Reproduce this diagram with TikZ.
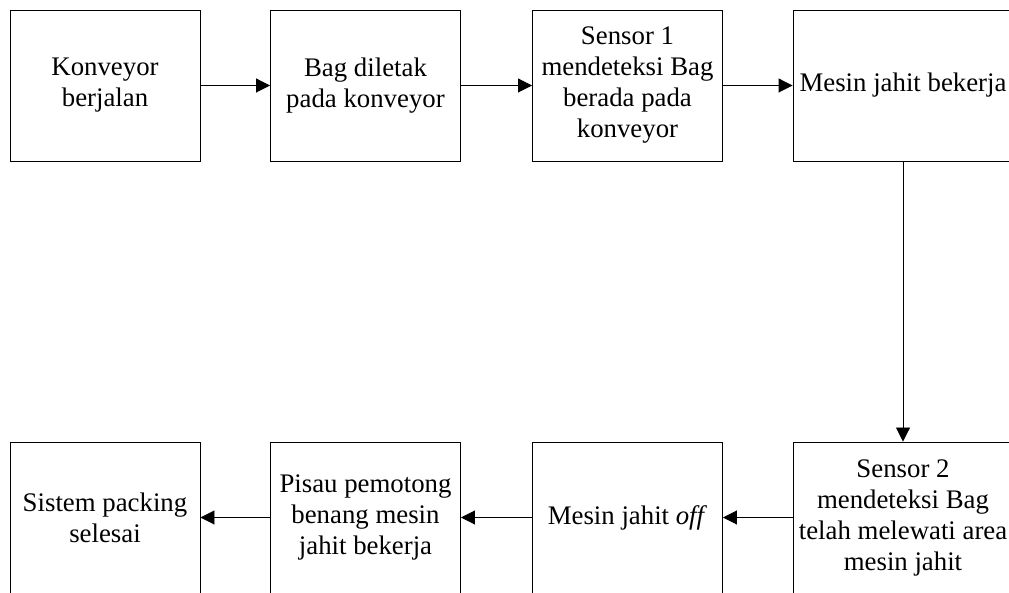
\documentclass[tikz,border=0pt]{standalone}
\usepackage{fontspec}
\setmainfont{Liberation Serif}
\usetikzlibrary{arrows.meta}

\tikzset{
	blok/.style={draw, line width=0.9pt, minimum width=190pt, minimum height=151pt,
		inner sep=0pt, align=center, font=\fontsize{26.8}{31}\selectfont},
	lebar/.style={minimum width=220pt},
	panah/.style={line width=0.9pt, -{Triangle[length=14pt,width=14pt]}}
}

\begin{document}
\begin{tikzpicture}[x=1pt,y=1pt]
	\useasboundingbox (0,0) rectangle (1009,592);
	\clip (0,0) rectangle (1009,592);
	% baris atas
	\node[blok] (konveyor) at (105,506.5) {Konveyor\\berjalan};
	\node[blok] (bag) at (365.5,506.5) {Bag diletak\\pada konveyor};
	\node[blok] (sensor1) at (627.5,506.5) {Sensor 1\\mendeteksi Bag\\berada pada\\konveyor};
	\node[blok,lebar] (jahit) at (903,506.5) {Mesin jahit bekerja};
	% baris bawah
	\node[blok,lebar] (sensor2) at (903,74.5) {Sensor 2\\mendeteksi Bag\\telah melewati area\\mesin jahit};
	\node[blok] (off) at (627.5,74.5) {Mesin jahit \textit{off}};
	\node[blok] (pisau) at (365.5,74.5) {Pisau pemotong\\benang mesin\\jahit bekerja};
	\node[blok] (selesai) at (105,74.5) {Sistem packing\\selesai};

	\draw[panah] (konveyor) -- (bag);
	\draw[panah] (bag) -- (sensor1);
	\draw[panah] (sensor1) -- (jahit);
	\draw[panah] (jahit) -- (sensor2);
	\draw[panah] (sensor2) -- (off);
	\draw[panah] (off) -- (pisau);
	\draw[panah] (pisau) -- (selesai);
\end{tikzpicture}
\end{document}
